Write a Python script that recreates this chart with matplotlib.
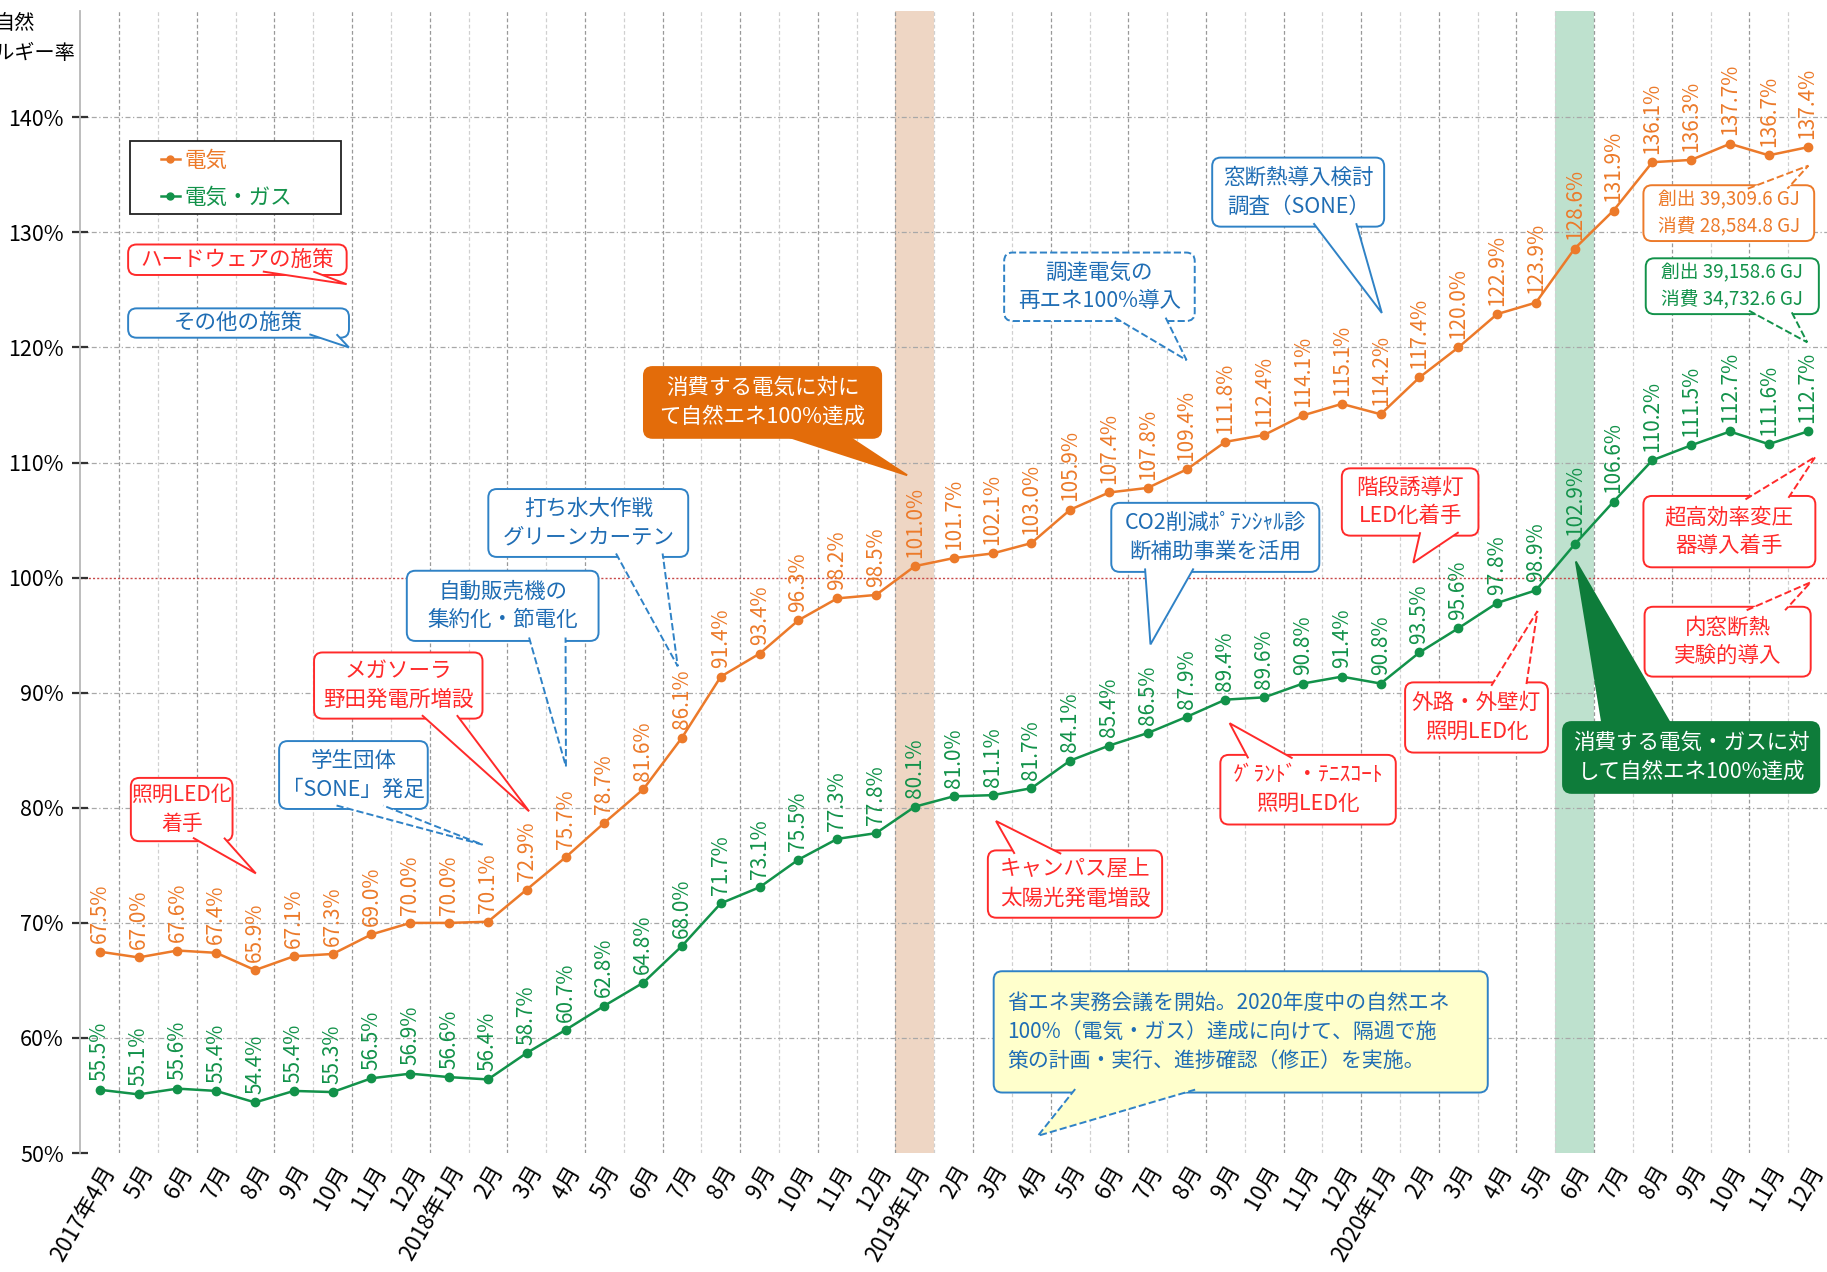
import matplotlib
matplotlib.use("Agg")
import matplotlib.pyplot as plt
from matplotlib.patches import FancyBboxPatch, Polygon, Rectangle
import numpy as np

plt.rcParams['font.family'] = ['Noto Sans CJK JP', 'DejaVu Sans']

# ---- data ------------------------------------------------------------
months = ["2017年4月", "5月", "6月", "7月", "8月", "9月", "10月", "11月", "12月",
          "2018年1月", "2月", "3月", "4月", "5月", "6月", "7月", "8月", "9月",
          "10月", "11月", "12月",
          "2019年1月", "2月", "3月", "4月", "5月", "6月", "7月", "8月", "9月",
          "10月", "11月", "12月",
          "2020年1月", "2月", "3月", "4月", "5月", "6月", "7月", "8月", "9月",
          "10月", "11月", "12月"]

denki = [67.5, 67.0, 67.6, 67.4, 65.9, 67.1, 67.3, 69.0, 70.0,
         70.0, 70.1, 72.9, 75.7, 78.7, 81.6, 86.1, 91.4, 93.4, 96.3, 98.2, 98.5,
         101.0, 101.7, 102.1, 103.0, 105.9, 107.4, 107.8, 109.4, 111.8, 112.4, 114.1, 115.1,
         114.2, 117.4, 120.0, 122.9, 123.9, 128.6, 131.9, 136.1, 136.3, 137.7, 136.7, 137.4]

denki_gas = [55.5, 55.1, 55.6, 55.4, 54.4, 55.4, 55.3, 56.5, 56.9,
             56.6, 56.4, 58.7, 60.7, 62.8, 64.8, 68.0, 71.7, 73.1, 75.5, 77.3, 77.8,
             80.1, 81.0, 81.1, 81.7, 84.1, 85.4, 86.5, 87.9, 89.4, 89.6, 90.8, 91.4,
             90.8, 93.5, 95.6, 97.8, 98.9, 102.9, 106.6, 110.2, 111.5, 112.7, 111.6, 112.7]

series_names = ["電気", "電気・ガス"]
y_ticks = [50, 60, 70, 80, 90, 100, 110, 120, 130, 140]

# ---- colours ---------------------------------------------------------
ORANGE = '#EC7A2A'
GREEN = '#12924A'
RED = '#FF2A2A'
BLUE = '#2F82C6'
BLUE_TXT = '#1F6DB4'

fig = plt.figure(figsize=(18.27, 12.72), dpi=100)
ax = fig.add_axes([0.044, 0.0935, 0.956, 0.8975])
x = np.arange(len(months))
ax.set_xlim(-0.5, len(months) - 0.5)
ax.set_ylim(50, 149.2)

# 100% achieved months shaded
i_e = next(i for i, v in enumerate(denki) if v >= 100)
i_g = next(i for i, v in enumerate(denki_gas) if v >= 100)
ax.axvspan(i_e - 0.5, i_e + 0.5, color='#EED6C4', zorder=0.5, lw=0)
ax.axvspan(i_g - 0.5, i_g + 0.5, color='#BEE1CE', zorder=0.5, lw=0)

# grid
for k, b in enumerate(np.arange(0.5, len(months) - 0.5)):
    ax.axvline(b, color='#999999' if k % 2 == 0 else '#d0d0d0', lw=0.9,
               ls=(0, (3, 2)), zorder=0.6)
for yv in y_ticks[1:]:
    if yv == 100:
        ax.axhline(yv, color='#C84848', lw=1.0, ls=(0, (1.5, 1.5)), zorder=0.7)
    else:
        ax.axhline(yv, color='#a8a8a8', lw=0.9, ls=(0, (4, 2, 1, 2)), zorder=0.7)

# lines
l1, = ax.plot(x, denki, '-o', color=ORANGE, lw=1.8, ms=6, zorder=3, label=series_names[0])
l2, = ax.plot(x, denki_gas, '-o', color=GREEN, lw=1.8, ms=6, zorder=3, label=series_names[1])

for vals, col in [(denki, ORANGE), (denki_gas, GREEN)]:
    for i, v in enumerate(vals):
        ax.annotate(f"{v:.1f}%", (i, v), xytext=(0, 6), textcoords='offset points',
                    rotation=90, ha='center', va='bottom', color=col, fontsize=15,
                    zorder=4)

# axes styling
ax.set_xticks(x)
ax.set_xticklabels(months, rotation=60, ha='right', rotation_mode='anchor', fontsize=16)
ax.tick_params(axis='x', length=0, pad=6)
ax.set_yticks(y_ticks)
ax.set_yticklabels([f"{v}%" for v in y_ticks], fontsize=15.5)
ax.tick_params(axis='y', direction='inout', length=12, width=1.6, color='#333333', pad=6)
for s in ['top', 'right', 'bottom']:
    ax.spines[s].set_visible(False)
ax.spines['left'].set_color('#b8b8b8')
ax.spines['left'].set_linewidth(1.3)

fig.text(0.008, 0.99, "自然\nエネルギー率", ha='center', va='top', fontsize=14.5,
         linespacing=1.55, multialignment='center')

# legend: entries without frame, framed by a plain black box
ax.add_patch(Rectangle((0.0286, 0.8224), 0.1204, 0.0643, transform=ax.transAxes,
                       fc='white', ec='#222222', lw=1.3, zorder=5))
leg = ax.legend(handles=[l1, l2], loc='upper left', bbox_to_anchor=(0.046, 0.879),
                borderaxespad=0, fontsize=15.5, labelcolor='linecolor', frameon=False,
                handlelength=0.9, handletextpad=0.2, labelspacing=0.7, borderpad=0.0)
leg.set_zorder(6)
for h in leg.legend_handles:
    h.set_markersize(5)

# ---- callouts --------------------------------------------------------
fig.canvas.draw()
p = ax.transData.transform([(0, 50), (1, 60)])
ASPECT = (p[1, 0] - p[0, 0]) / ((p[1, 1] - p[0, 1]) / 10.0)


def callout(text, box, side, bx, tip, color, face='white', tcolor=None, ls='-',
            spike_ls='-', fs=15.5, ha='center'):
    x0, x1, y0, y1 = box
    ax.add_patch(FancyBboxPatch((x0, y0), x1 - x0, y1 - y0,
                                boxstyle='round,pad=0,rounding_size=0.22',
                                mutation_aspect=ASPECT, fc=face, ec=color, lw=1.4,
                                ls=ls, zorder=5))
    ye = y0 + 0.3 if side == 'bottom' else y1 - 0.3
    ax.add_patch(Polygon([(bx[0], ye), tip, (bx[1], ye)], closed=False, fc=face,
                         ec=color, lw=1.4, ls=spike_ls, zorder=6))
    tx = (x0 + x1) / 2 if ha == 'center' else x0 + 0.35
    ax.text(tx, (y0 + y1) / 2, text, ha=ha, va='center', color=tcolor or color,
            fontsize=fs, linespacing=1.4, zorder=7)


callout("ハードウェアの施策", (0.73, 6.36, 126.3, 128.95), 'bottom', (4.2, 5.5), (6.36, 125.5), RED)
callout("その他の施策", (0.73, 6.42, 120.85, 123.4), 'bottom', (5.4, 6.1), (6.42, 120.0), BLUE,
        tcolor=BLUE_TXT)
callout("照明LED化\n着手", (0.8, 3.42, 77.1, 82.6), 'bottom', (2.4, 3.2), (4.02, 74.3), RED, fs=15)
callout("学生団体\n「SONE」発足", (4.62, 8.45, 79.9, 85.8), 'bottom', (6.1, 7.3), (9.86, 76.8),
        BLUE, tcolor=BLUE_TXT, spike_ls='--')
callout("メガソーラ\n野田発電所増設", (5.52, 9.86, 87.75, 93.5), 'bottom', (8.3, 9.2), (11.06, 79.7), RED)
callout("自動販売機の\n集約化・節電化", (7.91, 12.85, 94.5, 100.6), 'bottom', (11.06, 12.0),
        (12.01, 83.6), BLUE, tcolor=BLUE_TXT, spike_ls='--')
callout("打ち水大作戦\nグリーンカーテン", (10.01, 15.16, 101.8, 107.7), 'bottom', (13.3, 14.5),
        (14.89, 92.3), BLUE, tcolor=BLUE_TXT, spike_ls='--')
callout("消費する電気に対に\nて自然エネ100%達成", (14.02, 20.13, 112.15, 118.3), 'bottom',
        (17.55, 19.2), (20.8, 108.9), '#E36C0A', face='#E36C0A', tcolor='white')
callout("調達電気の\n再エネ100%導入", (23.3, 28.21, 122.3, 128.25), 'bottom', (26.15, 27.46),
        (28.0, 118.9), BLUE, tcolor=BLUE_TXT, ls='--', spike_ls='--')
callout("窓断熱導入検討\n調査（SONE）", (28.66, 33.09, 130.5, 136.5), 'bottom', (31.27, 32.37),
        (33.03, 123.0), BLUE, tcolor=BLUE_TXT)
callout("CO2削減ﾎﾟﾃﾝｼｬﾙ診\n断補助事業を活用", (26.06, 31.42, 100.5, 106.5), 'bottom',
        (26.93, 28.18), (27.07, 94.2), BLUE, tcolor=BLUE_TXT)
callout("階段誘導灯\nLED化着手", (32.0, 35.52, 103.65, 109.5), 'bottom', (34.02, 35.01),
        (33.84, 101.3), RED)
callout("超高効率変圧\n器導入着手", (39.77, 44.2, 100.9, 107.1), 'top', (42.4, 43.48),
        (44.2, 110.5), RED, spike_ls='--')
callout("内窓断熱\n実験的導入", (39.8, 44.08, 91.4, 97.47), 'top', (42.43, 43.42),
        (44.08, 99.6), RED, spike_ls='--')
callout("外路・外壁灯\n照明LED化", (33.63, 37.31, 84.8, 90.9), 'top', (35.85, 36.75),
        (37.04, 97.1), RED, spike_ls='--')
callout("ｸﾞﾗﾝﾄﾞ・ﾃﾆｽｺｰﾄ\n照明LED化", (28.87, 33.39, 78.55, 84.6), 'top', (29.59, 30.73),
        (29.11, 87.35), RED)
callout("キャンパス屋上\n太陽光発電増設", (22.88, 27.37, 70.45, 76.3), 'top', (23.57, 24.77),
        (23.09, 78.85), RED)
callout("消費する電気・ガスに対\nして自然エネ100%達成", (37.7, 44.3, 81.3, 87.45), 'top',
        (38.72, 40.49), (38.03, 101.4), '#0E7C3A', face='#0E7C3A', tcolor='white')
callout("省エネ実務会議を開始。2020年度中の自然エネ\n100%（電気・ガス）達成に向けて、隔週で施\n"
        "策の計画・実行、進捗確認（修正）を実施。", (23.03, 35.76, 55.26, 65.8), 'bottom',
        (25.13, 28.27), (24.17, 51.5), BLUE, face='#FFFFCC', tcolor=BLUE_TXT,
        spike_ls='--', ha='left', fs=15)
callout("創出 39,309.6 GJ\n消費 28,584.8 GJ", (39.77, 44.17, 129.25, 134.1), 'top',
        (42.46, 43.48), (44.02, 135.8), ORANGE, spike_ls='--', fs=13.5)
callout("創出 39,158.6 GJ\n消費 34,732.6 GJ", (39.83, 44.29, 122.9, 127.75), 'bottom',
        (42.49, 43.57), (43.99, 120.45), GREEN, spike_ls='--', fs=13.5)

fig.savefig("out.png", dpi=100)
